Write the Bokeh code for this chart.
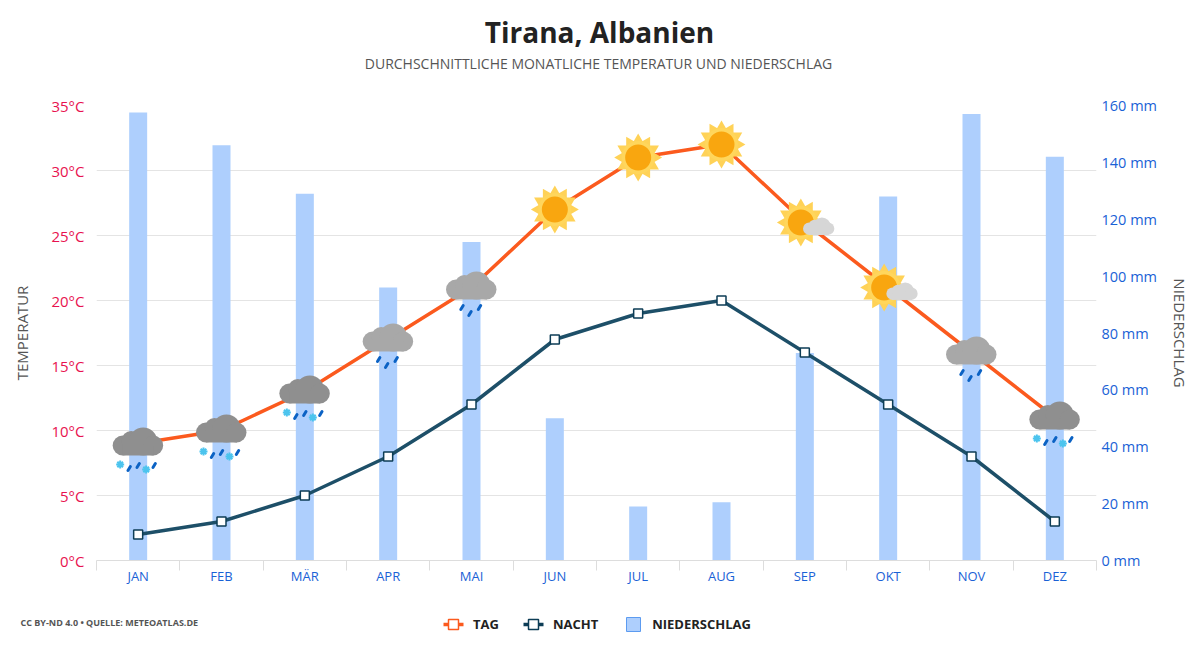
from bokeh.plotting import figure
from bokeh.embed import file_html
from bokeh.resources import INLINE
from bokeh.layouts import column
from bokeh.models import (Range1d, LinearAxis, FixedTicker, Label, Legend, LegendItem)
import numpy as np

months = ["JAN", "FEB", "MÄR", "APR", "MAI", "JUN", "JUL", "AUG", "SEP", "OKT", "NOV", "DEZ"]
day_temp = [9, 10, 13, 17, 21, 27, 31, 32, 26, 21, 16, 11]
night_temp = [2, 3, 5, 8, 12, 17, 19, 20, 16, 12, 8, 3]
precip = [157.5, 146, 129, 96, 112, 50, 19, 20.5, 73, 128, 157, 142]
icons = ["sleet", "sleet", "sleet", "rain", "rain", "sun", "sun", "sun", "partly", "partly", "rain", "sleet"]
temp_ticks = [0, 5, 10, 15, 20, 25, 30, 35]
precip_ticks = [0, 20, 40, 60, 80, 100, 120, 140, 160]

FONT = "Open Sans"
W = 1184
HEAD_H, FOOT_H = 80, 44
FL, FT, FW, FH, FB = 96, 25, 1000, 455, 30
PX = 12 / FW
PY = 35 / FH
BLUE = "#1a62d6"


def blank(height):
    f = figure(width=W, height=height, output_backend="svg", toolbar_location=None,
               x_range=Range1d(0, W), y_range=Range1d(0, height),
               x_axis_location=None, y_axis_location=None, frame_align=False,
               min_border=0, min_border_left=0, min_border_right=0, min_border_top=0, min_border_bottom=0)
    f.grid.visible = False
    f.outline_line_color = None
    return f


p = figure(width=W, height=FT + FH + FB, output_backend="svg", toolbar_location=None,
           x_range=Range1d(0, 12), y_range=Range1d(0, 35),
           frame_width=FW, frame_height=FH, frame_align=False,
           min_border_left=FL, min_border_right=W - FL - FW,
           min_border_top=FT, min_border_bottom=FB)
p.outline_line_color = None
p.background_fill_color = "white"
p.extra_y_ranges = {"prec": Range1d(0, 160)}

xc = np.arange(12) + 0.5
tc = np.array(day_temp, dtype=float)

# axes
p.xgrid.visible = False
p.ygrid.ticker = FixedTicker(ticks=temp_ticks)
p.ygrid.grid_line_color = "#e4e4e4"
p.ygrid.grid_line_width = 1

xa = p.xaxis[0]
xa.ticker = FixedTicker(ticks=list(xc), minor_ticks=list(range(13)))
xa.major_label_overrides = {float(x): m for x, m in zip(xc, months)}
xa.major_tick_line_color = None
xa.major_tick_out = 0
xa.major_tick_in = 0
xa.minor_tick_line_color = "#dddddd"
xa.minor_tick_out = 10
xa.minor_tick_in = 0
xa.axis_line_color = "#dddddd"
xa.major_label_text_color = BLUE
xa.major_label_text_font = FONT
xa.major_label_text_font_size = "13px"
xa.major_label_standoff = -4

ya = p.yaxis[0]
ya.ticker = FixedTicker(ticks=temp_ticks)
ya.major_label_overrides = {t: f"{t}°C" for t in temp_ticks}
ya.axis_line_color = None
ya.major_tick_line_color = None
ya.minor_tick_line_color = None
ya.major_tick_out = 0
ya.major_tick_in = 0
ya.major_label_text_color = "#e8124f"
ya.major_label_text_font = FONT
ya.major_label_text_font_size = "15px"
ya.major_label_standoff = 12
ya.axis_label = "TEMPERATUR"
ya.axis_label_text_font = FONT
ya.axis_label_text_font_style = "normal"
ya.axis_label_text_font_size = "15px"
ya.axis_label_text_color = "#555555"
ya.axis_label_standoff = 16

ra = LinearAxis(y_range_name="prec", ticker=FixedTicker(ticks=precip_ticks))
ra.major_label_overrides = {t: f"{t} mm" for t in precip_ticks}
ra.axis_line_color = None
ra.major_tick_line_color = None
ra.minor_tick_line_color = None
ra.major_tick_out = 0
ra.major_tick_in = 0
ra.major_label_text_color = BLUE
ra.major_label_text_font = FONT
ra.major_label_text_font_size = "14.5px"
ra.major_label_standoff = 5
ra.axis_label = "NIEDERSCHLAG"
ra.axis_label_text_font = FONT
ra.axis_label_text_font_style = "normal"
ra.axis_label_text_font_size = "15px"
ra.axis_label_text_color = "#555555"
ra.axis_label_standoff = 10
p.add_layout(ra, "right")

# data marks
p.vbar(x=xc, top=precip, bottom=0, width=18 * PX, y_range_name="prec",
       fill_color="#aecffd", line_color=None)
p.line(xc, day_temp, line_color="#fb5a1e", line_width=3.5)
p.scatter(xc, day_temp, marker="square", size=10, fill_color="white", line_color="#fb5a1e", line_width=1.5)
p.line(xc, night_temp, line_color="#1d4f68", line_width=3.5)
p.scatter(xc, night_temp, marker="square", size=9, fill_color="white", line_color="#0d3d56", line_width=1.5)


def where(kinds):
    idx = [i for i, k in enumerate(icons) if k in kinds]
    return xc[idx], tc[idx]


def circles(x, y, dx, dy, r, color):
    p.scatter(x + dx * PX, y - dy * PY, marker="circle", size=2 * r, fill_color=color, line_color=None)


def draw_cloud(x, y, dx0, dy0, s, light):
    for (dx, dy, r) in [(-15.5, 2, 10), (-7, -3, 9.5), (5, -2, 14), (15, 2, 10)]:
        circles(x, y, dx0 + dx * s, dy0 + dy * s, r * s, light)
    p.rect(x + dx0 * PX, y - (dy0 + 7 * s) * PY, width=31 * s, height=10 * s,
           width_units="screen", height_units="screen", fill_color=light, line_color=None)


def draw_sun(x, y, dx0=0.0):
    X = x + dx0 * PX
    for a in [0, 30, 60, 90]:
        p.scatter(X, y, marker="triangle", size=41.5, angle=np.deg2rad(a),
                  fill_color="#ffd257", line_color=None)
    circles(x, y, dx0, 0, 16.5, "#ffd65c")
    circles(x, y, dx0, 0, 13, "#f9a60f")


def drops(x, y, spots):
    for dx, d0 in spots:
        p.segment(x + (dx - 1.2) * PX, y - (d0 - 1) * PY, x + (dx + 1.2) * PX, y - (d0 - 5) * PY,
                  line_color="#0b62c4", line_width=3, line_cap="round")


x, y = where({"sun"})
draw_sun(x, y)
x, y = where({"partly"})
draw_sun(x, y, -4)
draw_cloud(x, y, 14, 5, 0.62, "#d6d6d6")

x, y = where({"rain"})
draw_cloud(x, y, 0, 0, 1.0, "#a8a8a8")
drops(x, y, [(-9.5, 23), (-1.5, 29), (8, 23)])

x, y = where({"sleet"})
draw_cloud(x, y, 0, 0, 1.0, "#8f8f8f")
drops(x, y, [(-9, 28), (0, 25), (16, 25)])
for dx, dy in [(-18, 21), (8, 26)]:
    p.scatter(x + dx * PX, y - dy * PY, marker="asterisk", size=8, line_color="#4cc4ee", line_width=2)

# header
head = blank(HEAD_H)
head.add_layout(Label(x=599, y=HEAD_H - 31, text="Tirana, Albanien", text_font=FONT, text_font_size="28px",
                      text_font_style="bold", text_color="#222222", text_align="center", text_baseline="middle"))
head.add_layout(Label(x=598, y=HEAD_H - 63, text="DURCHSCHNITTLICHE MONATLICHE TEMPERATUR UND NIEDERSCHLAG",
                      text_font=FONT, text_font_size="14px", text_color="#555555",
                      text_align="center", text_baseline="middle"))

# footer: the legend holds the labels, the keys are drawn at their spots just beside them
foot = blank(FOOT_H)
OFF = [-50]
KEY_Y = 10
no_key = foot.line(OFF, OFF, line_alpha=0)
foot.segment([443], [KEY_Y], [463], [KEY_Y], line_color="#fb5a1e", line_width=3.5)
foot.segment([523], [KEY_Y], [543], [KEY_Y], line_color="#0d3d56", line_width=3.5)
foot.scatter([453], [KEY_Y], marker="square", size=10, fill_color="white", line_color="#fb5a1e", line_width=1.5)
foot.scatter([533], [KEY_Y], marker="square", size=10, fill_color="white", line_color="#0d3d56", line_width=1.5)
foot.scatter([633], [KEY_Y], marker="square", size=14, fill_color="#aecffd", line_color="#5c9bf0", line_width=1)
legend = Legend(items=[LegendItem(label="TAG", renderers=[no_key]),
                       LegendItem(label="NACHT", renderers=[no_key]),
                       LegendItem(label="NIEDERSCHLAG", renderers=[no_key])],
                orientation="horizontal", location=(443, 1),
                background_fill_alpha=0, border_line_color=None,
                label_text_font=FONT, label_text_font_style="bold", label_text_font_size="13px",
                label_text_color="#222222", glyph_width=20, glyph_height=16,
                label_standoff=10, spacing=24, padding=0, margin=0)
foot.add_layout(legend, "center")
foot.add_layout(Label(x=20, y=FOOT_H - (622 - (HEAD_H + FT + FH + FB)), text="CC BY-ND 4.0 • QUELLE: METEOATLAS.DE",
                      text_font=FONT, text_font_size="9px", text_font_style="bold", text_color="#555555",
                      text_baseline="middle"))

layout = column(head, p, foot, spacing=0)
open("out.html", "w").write(file_html(layout, INLINE))
